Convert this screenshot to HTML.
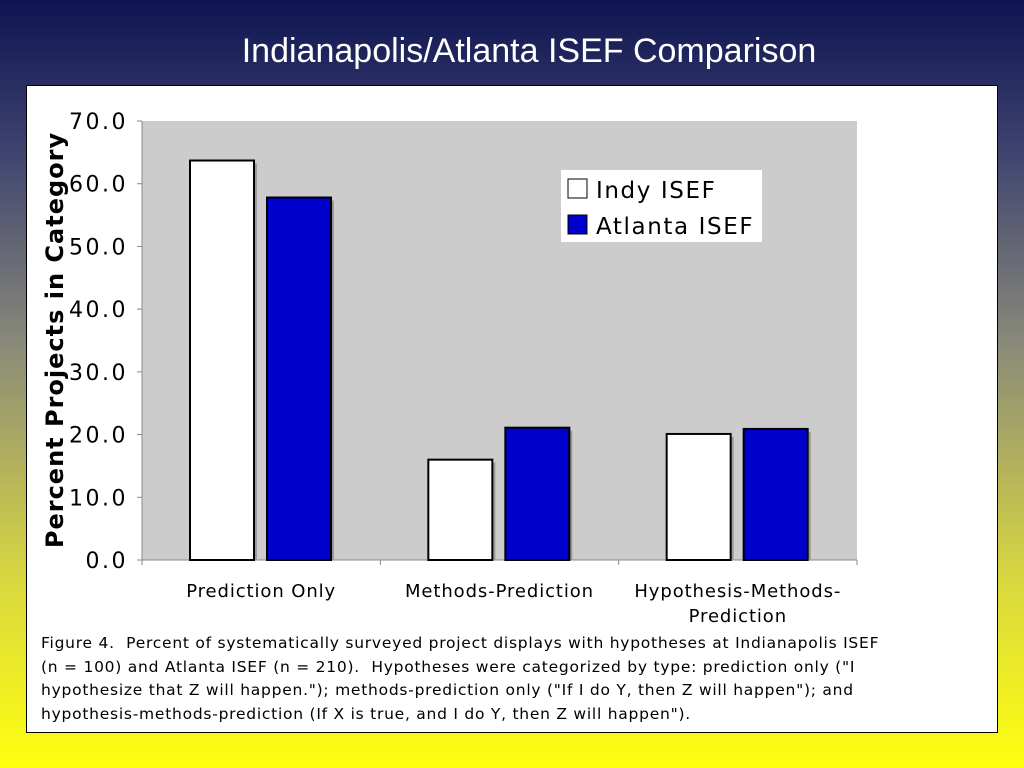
<!DOCTYPE html>
<html><head><meta charset="utf-8"><style>
body{margin:0;width:1024px;height:768px;overflow:hidden;background:linear-gradient(to bottom,#0e1450 0%,#3a3f6e 18%,#8a8a7a 45%,#d8d640 75%,#ffff10 100%);font-family:"Liberation Sans","DejaVu Sans",sans-serif;position:relative}
#title{position:absolute;left:0;width:1058px;top:32px;text-align:center;color:#fff;font-size:34px}
#panel{position:absolute;left:26px;top:85px;width:970px;height:646px;background:#fff;border:1px solid #000}
svg{position:absolute;left:0;top:0}
#cap{position:absolute;left:41px;top:632px;width:940px;white-space:nowrap;font-family:"DejaVu Sans",sans-serif;font-size:15.5px;letter-spacing:0.75px;line-height:23.5px;color:#000}
</style></head><body>
<div id="title">Indianapolis/Atlanta ISEF Comparison</div>
<div id="panel"></div>
<svg width="1024" height="768" id="chart"></svg>
<div id="cap">Figure 4.&nbsp; Percent of systematically surveyed project displays with hypotheses at Indianapolis ISEF<br>(n = 100) and Atlanta ISEF (n = 210).&nbsp; Hypotheses were categorized by type: prediction only ("I<br>hypothesize that Z will happen."); methods-prediction only ("If I do Y, then Z will happen"); and<br>hypothesis-methods-prediction (If X is true, and I do Y, then Z will happen").</div>
<script>
const categories=[["Prediction Only"],["Methods-Prediction"],["Hypothesis-Methods-","Prediction"]];
const indy=[63.7,16.0,20.1];
const atlanta=[57.8,21.1,20.9];
const ticks=[0,10,20,30,40,50,60,70];
const svg=document.getElementById('chart');
const NS='http://www.w3.org/2000/svg';
const X0=142,X1=857,Y0=560,Y1=121,YMAX=70;
const y=v=>Y0-(v/YMAX)*(Y0-Y1);
const gw=(X1-X0)/categories.length;
function mk(t,a,txt){const e=document.createElementNS(NS,t);for(const k in a)e.setAttribute(k,a[k]);if(txt!==undefined)e.textContent=txt;svg.appendChild(e);return e;}
let e=mk('rect',{x:X0,y:Y1,width:X1-X0,height:Y0-Y1,fill:'#cccccc'});


mk('line',{x1:X0,y1:Y1,x2:X0,y2:Y0,stroke:'#888'});
mk('line',{x1:X0,y1:Y0,x2:X1,y2:Y0,stroke:'#888'});
ticks.forEach(t=>{
 mk('line',{x1:X0-5,y1:y(t),x2:X0,y2:y(t),stroke:'#888'});
 e=mk('text',{x:X0-14,y:y(t)+8,'text-anchor':'end','font-size':22,'letter-spacing':2.5,'font-family':'DejaVu Sans, sans-serif'},t.toFixed(1));
 
 
});
for(let i=0;i<=categories.length;i++)mk('line',{x1:X0+gw*i,y1:Y0,x2:X0+gw*i,y2:Y0+5,stroke:'#888'});
categories.forEach((c,i)=>{
 const gx=X0+gw*i;
 [[indy[i],'#ffffff',48],[atlanta[i],'#0000cc',125]].forEach(([v,col,off],j)=>{
  mk('rect',{x:gx+off+3,y:y(v)+3,width:64,height:Y0-y(v)-3,fill:'#999'});
  e=mk('rect',{x:gx+off,y:y(v),width:64,height:Y0-y(v),fill:col,stroke:'#000','stroke-width':2});
  
  
 });
 c.forEach((l,k)=>{
  e=mk('text',{x:gx+gw/2,y:597+k*25,'text-anchor':'middle','font-size':18,'letter-spacing':0.9,'font-family':'DejaVu Sans, sans-serif'},l);
  
  
 });
});
e=mk('text',{x:0,y:0,transform:'translate(63,340) rotate(-90)','text-anchor':'middle','font-size':24,'letter-spacing':1.0,'font-weight':'bold','font-family':'DejaVu Sans, sans-serif'},'Percent Projects in Category');


e=mk('rect',{x:561,y:170,width:201,height:72,fill:'#fff'});


[['Indy ISEF','#fff'],['Atlanta ISEF','#0000cc']].forEach(([n,c],i)=>{
 mk('rect',{x:568,y:179+i*36,width:19,height:19,fill:c,stroke:'#000'});
 e=mk('text',{x:596,y:198+i*36,'font-size':23,'letter-spacing':1.6,'font-family':'DejaVu Sans, sans-serif'},n);
 
 
});
</script>
</body></html>
